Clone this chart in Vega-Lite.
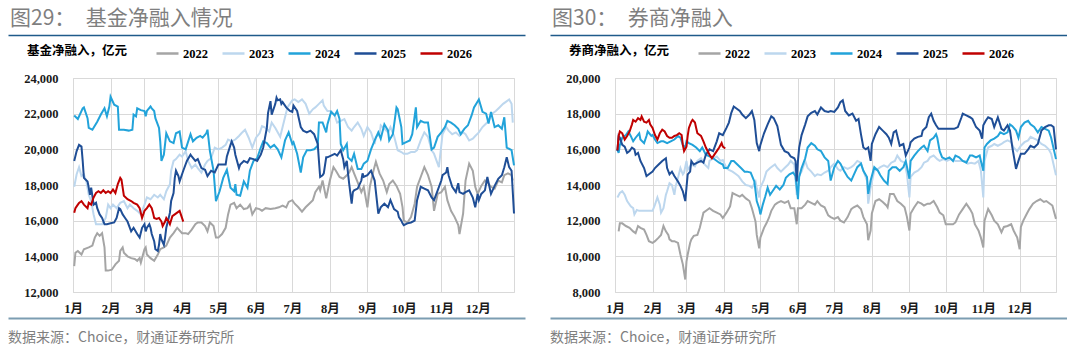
{
"$schema": "https://vega.github.io/schema/vega-lite/v6.json",
"background": "#ffffff",
"padding": {"left": 8, "top": 8, "right": 0, "bottom": 0},
"config": {
  "font": "Noto Sans CJK SC",
  "view": {"stroke": null},
  "axis": {"labelFont": "Liberation Serif, Noto Sans CJK SC", "labelFontSize": 12.5, "labelFontWeight": "bold", "labelColor": "#1a1a1a", "gridColor": "#d9d9d9", "gridWidth": 1, "domain": false, "ticks": false, "tickSize": 0, "title": null},
  "title": {"fontSize": 21, "color": "#7f7f7f", "anchor": "start", "fontWeight": "normal", "font": "Noto Sans CJK SC", "offset": 6},
  "legend": {"orient": "none", "legendX": -46, "legendY": -37, "direction": "horizontal", "titleOrient": "left", "titleFont": "Noto Sans CJK SC", "titleFontSize": 12.5, "titleFontWeight": "bold", "titleColor": "#000000", "titlePadding": 27, "titleBaseline": "middle", "labelFont": "Liberation Serif", "labelFontSize": 12.5, "labelFontWeight": "bold", "labelColor": "#000000", "symbolType": "stroke", "symbolSize": 484, "symbolStrokeWidth": 2.5, "columnPadding": 9, "labelOffset": 3, "padding": 0}
},
"datasets": {
"fund": [
{"s":"2022","d":"01-02","v":13450},{"s":"2022","d":"01-03","v":14200},{"s":"2022","d":"01-05","v":14300},{"s":"2022","d":"01-08","v":14100},{"s":"2022","d":"01-10","v":14400},{"s":"2022","d":"01-14","v":14500},{"s":"2022","d":"01-17","v":14600},{"s":"2022","d":"01-19","v":15050},{"s":"2022","d":"01-21","v":15300},{"s":"2022","d":"01-23","v":15150},{"s":"2022","d":"01-25","v":15300},{"s":"2022","d":"01-27","v":14500},{"s":"2022","d":"01-28","v":13200},{"s":"2022","d":"01-30","v":13200},{"s":"2022","d":"02-02","v":13250},{"s":"2022","d":"02-05","v":13550},{"s":"2022","d":"02-08","v":13750},{"s":"2022","d":"02-09","v":14300},{"s":"2022","d":"02-11","v":14500},{"s":"2022","d":"02-12","v":14200},{"s":"2022","d":"02-15","v":14000},{"s":"2022","d":"02-18","v":13900},{"s":"2022","d":"02-21","v":13850},{"s":"2022","d":"02-23","v":13750},{"s":"2022","d":"02-25","v":13900},{"s":"2022","d":"02-26","v":13650},{"s":"2022","d":"03-01","v":14400},{"s":"2022","d":"03-02","v":14500},{"s":"2022","d":"03-03","v":14100},{"s":"2022","d":"03-06","v":13900},{"s":"2022","d":"03-09","v":13750},{"s":"2022","d":"03-12","v":14100},{"s":"2022","d":"03-14","v":14400},{"s":"2022","d":"03-17","v":14500},{"s":"2022","d":"03-19","v":14600},{"s":"2022","d":"03-22","v":15050},{"s":"2022","d":"03-25","v":15300},{"s":"2022","d":"03-28","v":15600},{"s":"2022","d":"04-01","v":15300},{"s":"2022","d":"04-04","v":15300},{"s":"2022","d":"04-06","v":15250},{"s":"2022","d":"04-09","v":15500},{"s":"2022","d":"04-12","v":15800},{"s":"2022","d":"04-14","v":15900},{"s":"2022","d":"04-17","v":15900},{"s":"2022","d":"04-20","v":15700},{"s":"2022","d":"04-22","v":15400},{"s":"2022","d":"04-24","v":15900},{"s":"2022","d":"04-27","v":15700},{"s":"2022","d":"04-29","v":15050},{"s":"2022","d":"05-01","v":15050},{"s":"2022","d":"05-04","v":15250},{"s":"2022","d":"05-07","v":15600},{"s":"2022","d":"05-09","v":16350},{"s":"2022","d":"05-11","v":16900},{"s":"2022","d":"05-14","v":17000},{"s":"2022","d":"05-16","v":16700},{"s":"2022","d":"05-19","v":16900},{"s":"2022","d":"05-22","v":16650},{"s":"2022","d":"05-25","v":16700},{"s":"2022","d":"05-27","v":16900},{"s":"2022","d":"05-29","v":16350},{"s":"2022","d":"06-01","v":16700},{"s":"2022","d":"06-04","v":16650},{"s":"2022","d":"06-06","v":16550},{"s":"2022","d":"06-09","v":16700},{"s":"2022","d":"06-13","v":16650},{"s":"2022","d":"06-17","v":16700},{"s":"2022","d":"06-20","v":16750},{"s":"2022","d":"06-23","v":16850},{"s":"2022","d":"06-26","v":16750},{"s":"2022","d":"06-28","v":17050},{"s":"2022","d":"07-01","v":17150},{"s":"2022","d":"07-03","v":16950},{"s":"2022","d":"07-06","v":16750},{"s":"2022","d":"07-09","v":16500},{"s":"2022","d":"07-12","v":16750},{"s":"2022","d":"07-15","v":16950},{"s":"2022","d":"07-18","v":17150},{"s":"2022","d":"07-20","v":17600},{"s":"2022","d":"07-23","v":17900},{"s":"2022","d":"07-24","v":17700},{"s":"2022","d":"07-26","v":18250},{"s":"2022","d":"07-29","v":17250},{"s":"2022","d":"08-01","v":18250},{"s":"2022","d":"08-04","v":19000},{"s":"2022","d":"08-06","v":18800},{"s":"2022","d":"08-09","v":18450},{"s":"2022","d":"08-12","v":18350},{"s":"2022","d":"08-15","v":18550},{"s":"2022","d":"08-17","v":18700},{"s":"2022","d":"08-19","v":19000},{"s":"2022","d":"08-21","v":18650},{"s":"2022","d":"08-24","v":18150},{"s":"2022","d":"08-27","v":17600},{"s":"2022","d":"08-29","v":17900},{"s":"2022","d":"09-01","v":16750},{"s":"2022","d":"09-03","v":17900},{"s":"2022","d":"09-06","v":18800},{"s":"2022","d":"09-08","v":19300},{"s":"2022","d":"09-11","v":18650},{"s":"2022","d":"09-14","v":18250},{"s":"2022","d":"09-17","v":17600},{"s":"2022","d":"09-19","v":18050},{"s":"2022","d":"09-22","v":18250},{"s":"2022","d":"09-25","v":17950},{"s":"2022","d":"09-28","v":17500},{"s":"2022","d":"09-30","v":16750},{"s":"2022","d":"10-01","v":16000},{"s":"2022","d":"10-04","v":15900},{"s":"2022","d":"10-07","v":16200},{"s":"2022","d":"10-10","v":16950},{"s":"2022","d":"10-12","v":17900},{"s":"2022","d":"10-15","v":18450},{"s":"2022","d":"10-18","v":19000},{"s":"2022","d":"10-21","v":18550},{"s":"2022","d":"10-24","v":17900},{"s":"2022","d":"10-26","v":16550},{"s":"2022","d":"10-29","v":17500},{"s":"2022","d":"11-01","v":17600},{"s":"2022","d":"11-04","v":17900},{"s":"2022","d":"11-06","v":17150},{"s":"2022","d":"11-09","v":16550},{"s":"2022","d":"11-12","v":16200},{"s":"2022","d":"11-15","v":15750},{"s":"2022","d":"11-16","v":15250},{"s":"2022","d":"11-19","v":16400},{"s":"2022","d":"11-21","v":18250},{"s":"2022","d":"11-24","v":19200},{"s":"2022","d":"11-27","v":18800},{"s":"2022","d":"11-29","v":17900},{"s":"2022","d":"12-01","v":17500},{"s":"2022","d":"12-04","v":17950},{"s":"2022","d":"12-07","v":18250},{"s":"2022","d":"12-09","v":18150},{"s":"2022","d":"12-12","v":17900},{"s":"2022","d":"12-15","v":17800},{"s":"2022","d":"12-18","v":18250},{"s":"2022","d":"12-21","v":18150},{"s":"2022","d":"12-23","v":18550},{"s":"2022","d":"12-26","v":18650},{"s":"2022","d":"12-29","v":18550},{"s":"2022","d":"12-30","v":18250},
{"s":"2023","d":"01-02","v":17900},{"s":"2023","d":"01-04","v":18600},{"s":"2023","d":"01-06","v":19000},{"s":"2023","d":"01-08","v":18500},{"s":"2023","d":"01-10","v":18600},{"s":"2023","d":"01-12","v":18200},{"s":"2023","d":"01-14","v":17450},{"s":"2023","d":"01-16","v":17100},{"s":"2023","d":"01-18","v":16350},{"s":"2023","d":"01-20","v":15800},{"s":"2023","d":"01-23","v":15800},{"s":"2023","d":"01-25","v":15800},{"s":"2023","d":"01-28","v":16150},{"s":"2023","d":"01-30","v":16900},{"s":"2023","d":"02-01","v":16700},{"s":"2023","d":"02-03","v":16900},{"s":"2023","d":"02-06","v":16700},{"s":"2023","d":"02-09","v":17000},{"s":"2023","d":"02-12","v":17100},{"s":"2023","d":"02-15","v":16700},{"s":"2023","d":"02-17","v":16900},{"s":"2023","d":"02-20","v":16700},{"s":"2023","d":"02-23","v":16550},{"s":"2023","d":"02-26","v":16350},{"s":"2023","d":"03-01","v":16900},{"s":"2023","d":"03-03","v":17300},{"s":"2023","d":"03-06","v":17200},{"s":"2023","d":"03-09","v":17450},{"s":"2023","d":"03-12","v":17300},{"s":"2023","d":"03-14","v":17450},{"s":"2023","d":"03-17","v":17200},{"s":"2023","d":"03-19","v":17650},{"s":"2023","d":"03-22","v":18050},{"s":"2023","d":"03-23","v":18800},{"s":"2023","d":"03-25","v":19350},{"s":"2023","d":"03-27","v":19450},{"s":"2023","d":"03-30","v":19700},{"s":"2023","d":"04-01","v":19600},{"s":"2023","d":"04-04","v":19900},{"s":"2023","d":"04-06","v":19350},{"s":"2023","d":"04-09","v":18950},{"s":"2023","d":"04-12","v":19150},{"s":"2023","d":"04-14","v":18950},{"s":"2023","d":"04-17","v":18700},{"s":"2023","d":"04-20","v":19150},{"s":"2023","d":"04-22","v":19350},{"s":"2023","d":"04-25","v":19500},{"s":"2023","d":"04-28","v":20100},{"s":"2023","d":"05-01","v":20000},{"s":"2023","d":"05-04","v":20100},{"s":"2023","d":"05-07","v":20250},{"s":"2023","d":"05-09","v":20550},{"s":"2023","d":"05-12","v":20450},{"s":"2023","d":"05-15","v":20550},{"s":"2023","d":"05-18","v":20750},{"s":"2023","d":"05-20","v":20900},{"s":"2023","d":"05-23","v":21100},{"s":"2023","d":"05-26","v":20650},{"s":"2023","d":"05-29","v":20100},{"s":"2023","d":"06-01","v":20650},{"s":"2023","d":"06-04","v":20900},{"s":"2023","d":"06-06","v":21300},{"s":"2023","d":"06-09","v":21200},{"s":"2023","d":"06-12","v":21000},{"s":"2023","d":"06-14","v":21500},{"s":"2023","d":"06-17","v":21200},{"s":"2023","d":"06-21","v":20700},{"s":"2023","d":"06-27","v":22350},{"s":"2023","d":"07-01","v":22750},{"s":"2023","d":"07-03","v":22800},{"s":"2023","d":"07-06","v":22650},{"s":"2023","d":"07-09","v":22800},{"s":"2023","d":"07-12","v":22550},{"s":"2023","d":"07-15","v":22000},{"s":"2023","d":"07-18","v":22250},{"s":"2023","d":"07-20","v":22350},{"s":"2023","d":"07-23","v":22550},{"s":"2023","d":"07-26","v":22750},{"s":"2023","d":"07-27","v":22450},{"s":"2023","d":"07-30","v":22150},{"s":"2023","d":"08-02","v":22150},{"s":"2023","d":"08-05","v":21900},{"s":"2023","d":"08-07","v":21500},{"s":"2023","d":"08-10","v":21600},{"s":"2023","d":"08-13","v":21700},{"s":"2023","d":"08-16","v":21250},{"s":"2023","d":"08-19","v":21050},{"s":"2023","d":"08-21","v":21250},{"s":"2023","d":"08-24","v":21500},{"s":"2023","d":"08-27","v":21150},{"s":"2023","d":"08-29","v":20750},{"s":"2023","d":"09-01","v":21250},{"s":"2023","d":"09-04","v":20950},{"s":"2023","d":"09-07","v":20300},{"s":"2023","d":"09-08","v":20700},{"s":"2023","d":"09-11","v":20850},{"s":"2023","d":"09-12","v":21350},{"s":"2023","d":"09-15","v":21150},{"s":"2023","d":"09-18","v":20950},{"s":"2023","d":"09-20","v":21250},{"s":"2023","d":"09-23","v":20750},{"s":"2023","d":"09-26","v":19950},{"s":"2023","d":"09-29","v":19850},{"s":"2023","d":"10-01","v":19750},{"s":"2023","d":"10-04","v":19750},{"s":"2023","d":"10-07","v":19850},{"s":"2023","d":"10-10","v":19850},{"s":"2023","d":"10-12","v":19950},{"s":"2023","d":"10-15","v":20500},{"s":"2023","d":"10-18","v":20950},{"s":"2023","d":"10-21","v":20700},{"s":"2023","d":"10-24","v":19950},{"s":"2023","d":"10-26","v":19750},{"s":"2023","d":"10-30","v":19000},{"s":"2023","d":"11-02","v":20850},{"s":"2023","d":"11-05","v":21250},{"s":"2023","d":"11-07","v":21050},{"s":"2023","d":"11-10","v":20850},{"s":"2023","d":"11-13","v":20950},{"s":"2023","d":"11-16","v":20750},{"s":"2023","d":"11-19","v":20950},{"s":"2023","d":"11-21","v":20850},{"s":"2023","d":"11-24","v":20500},{"s":"2023","d":"11-27","v":20600},{"s":"2023","d":"11-29","v":20750},{"s":"2023","d":"12-02","v":20950},{"s":"2023","d":"12-05","v":21250},{"s":"2023","d":"12-08","v":21450},{"s":"2023","d":"12-10","v":21600},{"s":"2023","d":"12-13","v":22000},{"s":"2023","d":"12-16","v":22150},{"s":"2023","d":"12-19","v":22350},{"s":"2023","d":"12-22","v":22550},{"s":"2023","d":"12-24","v":22650},{"s":"2023","d":"12-27","v":22800},{"s":"2023","d":"12-29","v":22550},{"s":"2023","d":"12-30","v":21500},
{"s":"2024","d":"01-02","v":21900},{"s":"2024","d":"01-05","v":21700},{"s":"2024","d":"01-09","v":22300},{"s":"2024","d":"01-10","v":22350},{"s":"2024","d":"01-13","v":21750},{"s":"2024","d":"01-14","v":21200},{"s":"2024","d":"01-17","v":21100},{"s":"2024","d":"01-21","v":21550},{"s":"2024","d":"01-24","v":21950},{"s":"2024","d":"01-27","v":22300},{"s":"2024","d":"01-29","v":21850},{"s":"2024","d":"01-31","v":22400},{"s":"2024","d":"02-01","v":22950},{"s":"2024","d":"02-04","v":22500},{"s":"2024","d":"02-07","v":22400},{"s":"2024","d":"02-08","v":21100},{"s":"2024","d":"02-12","v":21100},{"s":"2024","d":"02-16","v":21050},{"s":"2024","d":"02-19","v":21100},{"s":"2024","d":"02-20","v":21950},{"s":"2024","d":"02-22","v":21850},{"s":"2024","d":"02-23","v":22300},{"s":"2024","d":"02-26","v":22200},{"s":"2024","d":"03-01","v":22150},{"s":"2024","d":"03-02","v":21850},{"s":"2024","d":"03-03","v":22150},{"s":"2024","d":"03-06","v":22400},{"s":"2024","d":"03-07","v":22300},{"s":"2024","d":"03-09","v":22150},{"s":"2024","d":"03-10","v":21750},{"s":"2024","d":"03-13","v":21200},{"s":"2024","d":"03-14","v":20450},{"s":"2024","d":"03-15","v":19350},{"s":"2024","d":"03-17","v":19700},{"s":"2024","d":"03-19","v":20900},{"s":"2024","d":"03-22","v":20450},{"s":"2024","d":"03-25","v":20350},{"s":"2024","d":"03-27","v":20900},{"s":"2024","d":"03-30","v":21000},{"s":"2024","d":"04-01","v":20100},{"s":"2024","d":"04-04","v":20000},{"s":"2024","d":"04-08","v":20850},{"s":"2024","d":"04-10","v":20450},{"s":"2024","d":"04-13","v":20650},{"s":"2024","d":"04-16","v":20750},{"s":"2024","d":"04-18","v":20650},{"s":"2024","d":"04-21","v":20900},{"s":"2024","d":"04-22","v":21100},{"s":"2024","d":"04-24","v":19900},{"s":"2024","d":"04-27","v":18800},{"s":"2024","d":"04-29","v":17100},{"s":"2024","d":"05-02","v":17650},{"s":"2024","d":"05-05","v":18400},{"s":"2024","d":"05-08","v":18850},{"s":"2024","d":"05-11","v":17850},{"s":"2024","d":"05-14","v":17650},{"s":"2024","d":"05-15","v":18050},{"s":"2024","d":"05-16","v":17450},{"s":"2024","d":"05-19","v":17400},{"s":"2024","d":"05-22","v":18200},{"s":"2024","d":"05-25","v":17850},{"s":"2024","d":"05-27","v":18800},{"s":"2024","d":"05-30","v":19350},{"s":"2024","d":"06-02","v":19500},{"s":"2024","d":"06-05","v":20100},{"s":"2024","d":"06-07","v":20450},{"s":"2024","d":"06-10","v":20350},{"s":"2024","d":"06-13","v":20100},{"s":"2024","d":"06-16","v":20250},{"s":"2024","d":"06-19","v":20000},{"s":"2024","d":"06-22","v":19550},{"s":"2024","d":"06-25","v":20500},{"s":"2024","d":"06-28","v":20950},{"s":"2024","d":"07-01","v":20300},{"s":"2024","d":"07-02","v":20400},{"s":"2024","d":"07-05","v":19750},{"s":"2024","d":"07-08","v":18700},{"s":"2024","d":"07-10","v":19550},{"s":"2024","d":"07-13","v":19950},{"s":"2024","d":"07-16","v":19950},{"s":"2024","d":"07-19","v":20000},{"s":"2024","d":"07-22","v":20200},{"s":"2024","d":"07-23","v":21500},{"s":"2024","d":"07-26","v":21500},{"s":"2024","d":"07-29","v":20950},{"s":"2024","d":"07-30","v":21400},{"s":"2024","d":"08-02","v":22100},{"s":"2024","d":"08-05","v":21900},{"s":"2024","d":"08-07","v":22150},{"s":"2024","d":"08-09","v":21700},{"s":"2024","d":"08-10","v":20300},{"s":"2024","d":"08-12","v":19950},{"s":"2024","d":"08-15","v":20300},{"s":"2024","d":"08-16","v":19550},{"s":"2024","d":"08-19","v":19350},{"s":"2024","d":"08-21","v":19750},{"s":"2024","d":"08-24","v":18900},{"s":"2024","d":"08-27","v":18900},{"s":"2024","d":"08-29","v":19200},{"s":"2024","d":"09-01","v":19350},{"s":"2024","d":"09-04","v":20000},{"s":"2024","d":"09-07","v":20500},{"s":"2024","d":"09-10","v":20950},{"s":"2024","d":"09-12","v":20600},{"s":"2024","d":"09-15","v":21400},{"s":"2024","d":"09-18","v":21050},{"s":"2024","d":"09-19","v":20500},{"s":"2024","d":"09-22","v":20850},{"s":"2024","d":"09-25","v":22350},{"s":"2024","d":"09-26","v":22250},{"s":"2024","d":"09-29","v":21250},{"s":"2024","d":"09-30","v":20300},{"s":"2024","d":"10-03","v":20400},{"s":"2024","d":"10-06","v":20500},{"s":"2024","d":"10-08","v":20850},{"s":"2024","d":"10-11","v":22350},{"s":"2024","d":"10-12","v":21250},{"s":"2024","d":"10-15","v":21600},{"s":"2024","d":"10-18","v":21500},{"s":"2024","d":"10-21","v":21500},{"s":"2024","d":"10-24","v":20000},{"s":"2024","d":"10-26","v":20100},{"s":"2024","d":"10-29","v":20700},{"s":"2024","d":"11-01","v":20950},{"s":"2024","d":"11-04","v":21250},{"s":"2024","d":"11-06","v":21600},{"s":"2024","d":"11-09","v":21500},{"s":"2024","d":"11-12","v":21350},{"s":"2024","d":"11-15","v":21150},{"s":"2024","d":"11-17","v":20850},{"s":"2024","d":"11-20","v":21150},{"s":"2024","d":"11-23","v":21350},{"s":"2024","d":"11-26","v":21900},{"s":"2024","d":"11-28","v":22350},{"s":"2024","d":"12-02","v":22800},{"s":"2024","d":"12-05","v":22100},{"s":"2024","d":"12-08","v":22000},{"s":"2024","d":"12-10","v":21450},{"s":"2024","d":"12-12","v":22100},{"s":"2024","d":"12-15","v":21250},{"s":"2024","d":"12-18","v":21350},{"s":"2024","d":"12-21","v":21150},{"s":"2024","d":"12-23","v":21800},{"s":"2024","d":"12-25","v":20100},{"s":"2024","d":"12-29","v":19950},{"s":"2024","d":"12-31","v":19100},
{"s":"2025","d":"01-02","v":19350},{"s":"2025","d":"01-04","v":19900},{"s":"2025","d":"01-06","v":20250},{"s":"2025","d":"01-08","v":20150},{"s":"2025","d":"01-09","v":19350},{"s":"2025","d":"01-10","v":18400},{"s":"2025","d":"01-13","v":18200},{"s":"2025","d":"01-14","v":17850},{"s":"2025","d":"01-15","v":17450},{"s":"2025","d":"01-16","v":17850},{"s":"2025","d":"01-18","v":16900},{"s":"2025","d":"01-20","v":17000},{"s":"2025","d":"01-21","v":16700},{"s":"2025","d":"01-23","v":16350},{"s":"2025","d":"01-25","v":16150},{"s":"2025","d":"01-27","v":15800},{"s":"2025","d":"01-29","v":15800},{"s":"2025","d":"02-01","v":15850},{"s":"2025","d":"02-04","v":15900},{"s":"2025","d":"02-06","v":16150},{"s":"2025","d":"02-08","v":16700},{"s":"2025","d":"02-09","v":16650},{"s":"2025","d":"02-11","v":16350},{"s":"2025","d":"02-13","v":16150},{"s":"2025","d":"02-15","v":15950},{"s":"2025","d":"02-18","v":15400},{"s":"2025","d":"02-20","v":15600},{"s":"2025","d":"02-23","v":15250},{"s":"2025","d":"02-25","v":15050},{"s":"2025","d":"02-27","v":15600},{"s":"2025","d":"03-01","v":15800},{"s":"2025","d":"03-02","v":15400},{"s":"2025","d":"03-03","v":15600},{"s":"2025","d":"03-05","v":15800},{"s":"2025","d":"03-06","v":15600},{"s":"2025","d":"03-07","v":15250},{"s":"2025","d":"03-09","v":14850},{"s":"2025","d":"03-10","v":14400},{"s":"2025","d":"03-12","v":14300},{"s":"2025","d":"03-13","v":14650},{"s":"2025","d":"03-14","v":15250},{"s":"2025","d":"03-15","v":14950},{"s":"2025","d":"03-17","v":14650},{"s":"2025","d":"03-18","v":15050},{"s":"2025","d":"03-19","v":15600},{"s":"2025","d":"03-21","v":16150},{"s":"2025","d":"03-22","v":16450},{"s":"2025","d":"03-23","v":17100},{"s":"2025","d":"03-25","v":17550},{"s":"2025","d":"03-26","v":18400},{"s":"2025","d":"03-27","v":18800},{"s":"2025","d":"03-29","v":18500},{"s":"2025","d":"03-30","v":18200},{"s":"2025","d":"04-02","v":18800},{"s":"2025","d":"04-05","v":19350},{"s":"2025","d":"04-08","v":19700},{"s":"2025","d":"04-09","v":19600},{"s":"2025","d":"04-12","v":19350},{"s":"2025","d":"04-14","v":19450},{"s":"2025","d":"04-17","v":18950},{"s":"2025","d":"04-20","v":18850},{"s":"2025","d":"04-22","v":18500},{"s":"2025","d":"04-25","v":18800},{"s":"2025","d":"04-28","v":18700},{"s":"2025","d":"05-01","v":19150},{"s":"2025","d":"05-04","v":19150},{"s":"2025","d":"05-07","v":19150},{"s":"2025","d":"05-08","v":19600},{"s":"2025","d":"05-11","v":20250},{"s":"2025","d":"05-12","v":20450},{"s":"2025","d":"05-14","v":20100},{"s":"2025","d":"05-15","v":19700},{"s":"2025","d":"05-18","v":18950},{"s":"2025","d":"05-19","v":19150},{"s":"2025","d":"05-22","v":19350},{"s":"2025","d":"05-25","v":19250},{"s":"2025","d":"05-27","v":19500},{"s":"2025","d":"05-30","v":19450},{"s":"2025","d":"06-02","v":19350},{"s":"2025","d":"06-05","v":19700},{"s":"2025","d":"06-07","v":20100},{"s":"2025","d":"06-10","v":21200},{"s":"2025","d":"06-11","v":22050},{"s":"2025","d":"06-13","v":22700},{"s":"2025","d":"06-14","v":21950},{"s":"2025","d":"06-17","v":22550},{"s":"2025","d":"06-18","v":22900},{"s":"2025","d":"06-19","v":22750},{"s":"2025","d":"06-21","v":22800},{"s":"2025","d":"06-22","v":22550},{"s":"2025","d":"06-23","v":22650},{"s":"2025","d":"06-26","v":22350},{"s":"2025","d":"06-29","v":22150},{"s":"2025","d":"07-01","v":22100},{"s":"2025","d":"07-02","v":22450},{"s":"2025","d":"07-05","v":22150},{"s":"2025","d":"07-08","v":21250},{"s":"2025","d":"07-10","v":21050},{"s":"2025","d":"07-13","v":20950},{"s":"2025","d":"07-16","v":21050},{"s":"2025","d":"07-19","v":20850},{"s":"2025","d":"07-22","v":20300},{"s":"2025","d":"07-23","v":19350},{"s":"2025","d":"07-24","v":18450},{"s":"2025","d":"07-26","v":18550},{"s":"2025","d":"07-27","v":18650},{"s":"2025","d":"07-29","v":19550},{"s":"2025","d":"07-30","v":19550},{"s":"2025","d":"08-02","v":19650},{"s":"2025","d":"08-05","v":19750},{"s":"2025","d":"08-07","v":19650},{"s":"2025","d":"08-10","v":19950},{"s":"2025","d":"08-12","v":19450},{"s":"2025","d":"08-13","v":19000},{"s":"2025","d":"08-15","v":19350},{"s":"2025","d":"08-16","v":18650},{"s":"2025","d":"08-17","v":18050},{"s":"2025","d":"08-19","v":16950},{"s":"2025","d":"08-20","v":17600},{"s":"2025","d":"08-21","v":17700},{"s":"2025","d":"08-24","v":17800},{"s":"2025","d":"08-27","v":18250},{"s":"2025","d":"08-28","v":18650},{"s":"2025","d":"08-29","v":18450},{"s":"2025","d":"09-01","v":18550},{"s":"2025","d":"09-04","v":18800},{"s":"2025","d":"09-07","v":18250},{"s":"2025","d":"09-10","v":16400},{"s":"2025","d":"09-12","v":16750},{"s":"2025","d":"09-15","v":16950},{"s":"2025","d":"09-18","v":16750},{"s":"2025","d":"09-20","v":17150},{"s":"2025","d":"09-23","v":16650},{"s":"2025","d":"09-26","v":16500},{"s":"2025","d":"09-27","v":16200},{"s":"2025","d":"09-29","v":16000},{"s":"2025","d":"09-30","v":15850},{"s":"2025","d":"10-01","v":15750},{"s":"2025","d":"10-04","v":15850},{"s":"2025","d":"10-07","v":15900},{"s":"2025","d":"10-10","v":16000},{"s":"2025","d":"10-12","v":17150},{"s":"2025","d":"10-15","v":17900},{"s":"2025","d":"10-18","v":17800},{"s":"2025","d":"10-21","v":17700},{"s":"2025","d":"10-24","v":17300},{"s":"2025","d":"10-26","v":17150},{"s":"2025","d":"10-29","v":17700},{"s":"2025","d":"11-01","v":18250},{"s":"2025","d":"11-02","v":18550},{"s":"2025","d":"11-05","v":18700},{"s":"2025","d":"11-06","v":19000},{"s":"2025","d":"11-07","v":18550},{"s":"2025","d":"11-10","v":17900},{"s":"2025","d":"11-13","v":17600},{"s":"2025","d":"11-15","v":18100},{"s":"2025","d":"11-16","v":17600},{"s":"2025","d":"11-19","v":17500},{"s":"2025","d":"11-21","v":17600},{"s":"2025","d":"11-24","v":17700},{"s":"2025","d":"11-27","v":17300},{"s":"2025","d":"11-29","v":16750},{"s":"2025","d":"12-01","v":17500},{"s":"2025","d":"12-02","v":17150},{"s":"2025","d":"12-04","v":17500},{"s":"2025","d":"12-07","v":17700},{"s":"2025","d":"12-09","v":18450},{"s":"2025","d":"12-12","v":17500},{"s":"2025","d":"12-15","v":17950},{"s":"2025","d":"12-18","v":18350},{"s":"2025","d":"12-21","v":18550},{"s":"2025","d":"12-23","v":19000},{"s":"2025","d":"12-25","v":19550},{"s":"2025","d":"12-27","v":19000},{"s":"2025","d":"12-29","v":18800},{"s":"2025","d":"12-31","v":16400},
{"s":"2026","d":"01-02","v":16450},{"s":"2026","d":"01-03","v":16700},{"s":"2026","d":"01-05","v":16900},{"s":"2026","d":"01-06","v":17000},{"s":"2026","d":"01-08","v":17100},{"s":"2026","d":"01-10","v":16900},{"s":"2026","d":"01-13","v":16700},{"s":"2026","d":"01-14","v":17000},{"s":"2026","d":"01-16","v":16900},{"s":"2026","d":"01-18","v":17300},{"s":"2026","d":"01-20","v":17550},{"s":"2026","d":"01-22","v":17650},{"s":"2026","d":"01-24","v":17550},{"s":"2026","d":"01-26","v":17700},{"s":"2026","d":"01-28","v":17550},{"s":"2026","d":"01-30","v":17650},{"s":"2026","d":"02-01","v":17550},{"s":"2026","d":"02-03","v":17750},{"s":"2026","d":"02-05","v":17550},{"s":"2026","d":"02-07","v":18050},{"s":"2026","d":"02-09","v":18400},{"s":"2026","d":"02-10","v":18300},{"s":"2026","d":"02-12","v":17400},{"s":"2026","d":"02-15","v":17200},{"s":"2026","d":"02-18","v":17100},{"s":"2026","d":"02-20","v":17000},{"s":"2026","d":"02-23","v":16900},{"s":"2026","d":"02-25","v":16700},{"s":"2026","d":"02-27","v":16150},{"s":"2026","d":"03-01","v":16550},{"s":"2026","d":"03-03","v":16700},{"s":"2026","d":"03-05","v":16900},{"s":"2026","d":"03-07","v":16700},{"s":"2026","d":"03-08","v":16450},{"s":"2026","d":"03-09","v":16150},{"s":"2026","d":"03-11","v":16100},{"s":"2026","d":"03-13","v":16150},{"s":"2026","d":"03-15","v":15950},{"s":"2026","d":"03-16","v":15700},{"s":"2026","d":"03-18","v":15950},{"s":"2026","d":"03-19","v":16150},{"s":"2026","d":"03-21","v":15950},{"s":"2026","d":"03-22","v":15800},{"s":"2026","d":"03-24","v":16250},{"s":"2026","d":"03-26","v":16350},{"s":"2026","d":"03-28","v":16450},{"s":"2026","d":"03-30","v":16550},{"s":"2026","d":"03-31","v":16350},{"s":"2026","d":"04-02","v":15950}
],
"broker": [
{"s":"2022","d":"01-04","v":11400},{"s":"2022","d":"01-05","v":11850},{"s":"2022","d":"01-07","v":11850},{"s":"2022","d":"01-10","v":11700},{"s":"2022","d":"01-13","v":11600},{"s":"2022","d":"01-16","v":11400},{"s":"2022","d":"01-18","v":11300},{"s":"2022","d":"01-20","v":11700},{"s":"2022","d":"01-22","v":11600},{"s":"2022","d":"01-25","v":11500},{"s":"2022","d":"01-27","v":11200},{"s":"2022","d":"01-29","v":10850},{"s":"2022","d":"02-01","v":10750},{"s":"2022","d":"02-03","v":10850},{"s":"2022","d":"02-06","v":11050},{"s":"2022","d":"02-08","v":11200},{"s":"2022","d":"02-10","v":11700},{"s":"2022","d":"02-12","v":11400},{"s":"2022","d":"02-14","v":11200},{"s":"2022","d":"02-15","v":10950},{"s":"2022","d":"02-17","v":10850},{"s":"2022","d":"02-19","v":10850},{"s":"2022","d":"02-22","v":10750},{"s":"2022","d":"02-24","v":10100},{"s":"2022","d":"02-26","v":9550},{"s":"2022","d":"02-28","v":8700},{"s":"2022","d":"03-01","v":9700},{"s":"2022","d":"03-02","v":10100},{"s":"2022","d":"03-04","v":10750},{"s":"2022","d":"03-05","v":10950},{"s":"2022","d":"03-07","v":11150},{"s":"2022","d":"03-10","v":11200},{"s":"2022","d":"03-12","v":11600},{"s":"2022","d":"03-15","v":12450},{"s":"2022","d":"03-18","v":12600},{"s":"2022","d":"03-20","v":12700},{"s":"2022","d":"03-23","v":12550},{"s":"2022","d":"03-26","v":12450},{"s":"2022","d":"03-29","v":12350},{"s":"2022","d":"03-31","v":12150},{"s":"2022","d":"04-03","v":12450},{"s":"2022","d":"04-06","v":12800},{"s":"2022","d":"04-08","v":13550},{"s":"2022","d":"04-11","v":13450},{"s":"2022","d":"04-14","v":13350},{"s":"2022","d":"04-16","v":13450},{"s":"2022","d":"04-19","v":13250},{"s":"2022","d":"04-22","v":13100},{"s":"2022","d":"04-24","v":12700},{"s":"2022","d":"04-27","v":11950},{"s":"2022","d":"04-28","v":11200},{"s":"2022","d":"04-30","v":10450},{"s":"2022","d":"05-01","v":11050},{"s":"2022","d":"05-04","v":11600},{"s":"2022","d":"05-06","v":11850},{"s":"2022","d":"05-08","v":12150},{"s":"2022","d":"05-10","v":12550},{"s":"2022","d":"05-13","v":12900},{"s":"2022","d":"05-15","v":13000},{"s":"2022","d":"05-18","v":13100},{"s":"2022","d":"05-21","v":13000},{"s":"2022","d":"05-24","v":13100},{"s":"2022","d":"05-26","v":12700},{"s":"2022","d":"05-29","v":12700},{"s":"2022","d":"05-31","v":11800},{"s":"2022","d":"06-01","v":12700},{"s":"2022","d":"06-04","v":12700},{"s":"2022","d":"06-07","v":12900},{"s":"2022","d":"06-09","v":13100},{"s":"2022","d":"06-12","v":13000},{"s":"2022","d":"06-15","v":12900},{"s":"2022","d":"06-17","v":13100},{"s":"2022","d":"06-20","v":12850},{"s":"2022","d":"06-23","v":12750},{"s":"2022","d":"06-26","v":12300},{"s":"2022","d":"06-28","v":12200},{"s":"2022","d":"07-01","v":12100},{"s":"2022","d":"07-04","v":12200},{"s":"2022","d":"07-06","v":12000},{"s":"2022","d":"07-09","v":11900},{"s":"2022","d":"07-12","v":12200},{"s":"2022","d":"07-15","v":12650},{"s":"2022","d":"07-17","v":12750},{"s":"2022","d":"07-20","v":12850},{"s":"2022","d":"07-23","v":12650},{"s":"2022","d":"07-25","v":12200},{"s":"2022","d":"07-28","v":11800},{"s":"2022","d":"07-29","v":10900},{"s":"2022","d":"07-31","v":11450},{"s":"2022","d":"08-01","v":12400},{"s":"2022","d":"08-04","v":13100},{"s":"2022","d":"08-07","v":13200},{"s":"2022","d":"08-10","v":13050},{"s":"2022","d":"08-13","v":12850},{"s":"2022","d":"08-14","v":12750},{"s":"2022","d":"08-16","v":13500},{"s":"2022","d":"08-19","v":13500},{"s":"2022","d":"08-22","v":13100},{"s":"2022","d":"08-25","v":12950},{"s":"2022","d":"08-28","v":12750},{"s":"2022","d":"08-30","v":12200},{"s":"2022","d":"09-01","v":11450},{"s":"2022","d":"09-02","v":12400},{"s":"2022","d":"09-05","v":12750},{"s":"2022","d":"09-08","v":13050},{"s":"2022","d":"09-11","v":12950},{"s":"2022","d":"09-13","v":12850},{"s":"2022","d":"09-16","v":12950},{"s":"2022","d":"09-18","v":12950},{"s":"2022","d":"09-21","v":13100},{"s":"2022","d":"09-24","v":12750},{"s":"2022","d":"09-26","v":12450},{"s":"2022","d":"09-29","v":12300},{"s":"2022","d":"10-01","v":11800},{"s":"2022","d":"10-04","v":11800},{"s":"2022","d":"10-07","v":11800},{"s":"2022","d":"10-09","v":11900},{"s":"2022","d":"10-12","v":12350},{"s":"2022","d":"10-15","v":12650},{"s":"2022","d":"10-18","v":12950},{"s":"2022","d":"10-21","v":12650},{"s":"2022","d":"10-23","v":12400},{"s":"2022","d":"10-25","v":11800},{"s":"2022","d":"10-28","v":11450},{"s":"2022","d":"10-30","v":11050},{"s":"2022","d":"11-01","v":10500},{"s":"2022","d":"11-02","v":12000},{"s":"2022","d":"11-05","v":12650},{"s":"2022","d":"11-08","v":12300},{"s":"2022","d":"11-10","v":12000},{"s":"2022","d":"11-13","v":11800},{"s":"2022","d":"11-16","v":11350},{"s":"2022","d":"11-18","v":11650},{"s":"2022","d":"11-21","v":11700},{"s":"2022","d":"11-24","v":11800},{"s":"2022","d":"11-26","v":11450},{"s":"2022","d":"11-29","v":11050},{"s":"2022","d":"12-01","v":10400},{"s":"2022","d":"12-02","v":11650},{"s":"2022","d":"12-04","v":12000},{"s":"2022","d":"12-07","v":12400},{"s":"2022","d":"12-09","v":12650},{"s":"2022","d":"12-12","v":12950},{"s":"2022","d":"12-15","v":13100},{"s":"2022","d":"12-18","v":13200},{"s":"2022","d":"12-21","v":13050},{"s":"2022","d":"12-23","v":13100},{"s":"2022","d":"12-26","v":12950},{"s":"2022","d":"12-28","v":12850},{"s":"2022","d":"12-31","v":12100},
{"s":"2023","d":"01-03","v":13300},{"s":"2023","d":"01-05","v":13550},{"s":"2023","d":"01-07","v":13650},{"s":"2023","d":"01-09","v":13450},{"s":"2023","d":"01-11","v":13100},{"s":"2023","d":"01-14","v":12800},{"s":"2023","d":"01-16","v":12700},{"s":"2023","d":"01-17","v":12350},{"s":"2023","d":"01-19","v":12600},{"s":"2023","d":"01-21","v":12550},{"s":"2023","d":"01-24","v":12550},{"s":"2023","d":"01-27","v":12550},{"s":"2023","d":"01-29","v":12550},{"s":"2023","d":"02-01","v":12550},{"s":"2023","d":"02-03","v":12900},{"s":"2023","d":"02-05","v":13300},{"s":"2023","d":"02-07","v":12900},{"s":"2023","d":"02-08","v":12450},{"s":"2023","d":"02-10","v":12700},{"s":"2023","d":"02-12","v":13450},{"s":"2023","d":"02-13","v":13650},{"s":"2023","d":"02-15","v":14100},{"s":"2023","d":"02-17","v":14000},{"s":"2023","d":"02-19","v":13450},{"s":"2023","d":"02-20","v":13900},{"s":"2023","d":"02-22","v":14400},{"s":"2023","d":"02-24","v":14950},{"s":"2023","d":"02-26","v":14600},{"s":"2023","d":"02-27","v":14700},{"s":"2023","d":"03-01","v":15350},{"s":"2023","d":"03-02","v":14850},{"s":"2023","d":"03-05","v":15150},{"s":"2023","d":"03-08","v":15050},{"s":"2023","d":"03-10","v":15350},{"s":"2023","d":"03-13","v":15500},{"s":"2023","d":"03-16","v":15150},{"s":"2023","d":"03-19","v":14950},{"s":"2023","d":"03-20","v":15350},{"s":"2023","d":"03-23","v":15500},{"s":"2023","d":"03-26","v":15600},{"s":"2023","d":"03-29","v":15350},{"s":"2023","d":"03-31","v":15400},{"s":"2023","d":"04-03","v":14950},{"s":"2023","d":"04-05","v":14850},{"s":"2023","d":"04-08","v":14750},{"s":"2023","d":"04-11","v":14600},{"s":"2023","d":"04-13","v":14500},{"s":"2023","d":"04-16","v":14200},{"s":"2023","d":"04-19","v":14000},{"s":"2023","d":"04-22","v":13950},{"s":"2023","d":"04-24","v":13850},{"s":"2023","d":"04-27","v":14200},{"s":"2023","d":"04-28","v":13850},{"s":"2023","d":"04-30","v":13300},{"s":"2023","d":"05-01","v":13850},{"s":"2023","d":"05-04","v":14300},{"s":"2023","d":"05-06","v":14750},{"s":"2023","d":"05-09","v":14950},{"s":"2023","d":"05-13","v":15150},{"s":"2023","d":"05-15","v":14950},{"s":"2023","d":"05-18","v":14750},{"s":"2023","d":"05-21","v":14950},{"s":"2023","d":"05-24","v":15150},{"s":"2023","d":"05-26","v":15350},{"s":"2023","d":"05-29","v":15150},{"s":"2023","d":"05-31","v":13450},{"s":"2023","d":"06-01","v":14400},{"s":"2023","d":"06-04","v":14750},{"s":"2023","d":"06-07","v":15350},{"s":"2023","d":"06-09","v":14950},{"s":"2023","d":"06-12","v":14750},{"s":"2023","d":"06-15","v":14500},{"s":"2023","d":"06-17","v":14600},{"s":"2023","d":"06-20","v":14550},{"s":"2023","d":"06-23","v":14700},{"s":"2023","d":"06-26","v":14800},{"s":"2023","d":"06-28","v":15000},{"s":"2023","d":"07-01","v":15200},{"s":"2023","d":"07-04","v":14900},{"s":"2023","d":"07-06","v":14800},{"s":"2023","d":"07-09","v":15000},{"s":"2023","d":"07-12","v":14900},{"s":"2023","d":"07-15","v":15000},{"s":"2023","d":"07-17","v":15100},{"s":"2023","d":"07-20","v":15350},{"s":"2023","d":"07-23","v":15250},{"s":"2023","d":"07-25","v":14800},{"s":"2023","d":"07-28","v":14250},{"s":"2023","d":"07-29","v":12950},{"s":"2023","d":"07-31","v":13850},{"s":"2023","d":"08-03","v":14800},{"s":"2023","d":"08-06","v":14900},{"s":"2023","d":"08-08","v":15000},{"s":"2023","d":"08-11","v":15100},{"s":"2023","d":"08-14","v":15000},{"s":"2023","d":"08-17","v":15250},{"s":"2023","d":"08-20","v":15350},{"s":"2023","d":"08-22","v":15650},{"s":"2023","d":"08-25","v":15350},{"s":"2023","d":"08-28","v":15250},{"s":"2023","d":"08-30","v":14600},{"s":"2023","d":"09-01","v":13300},{"s":"2023","d":"09-02","v":14450},{"s":"2023","d":"09-05","v":14700},{"s":"2023","d":"09-08","v":14800},{"s":"2023","d":"09-11","v":15000},{"s":"2023","d":"09-13","v":15250},{"s":"2023","d":"09-16","v":15350},{"s":"2023","d":"09-18","v":15550},{"s":"2023","d":"09-21","v":15650},{"s":"2023","d":"09-24","v":15450},{"s":"2023","d":"09-26","v":15350},{"s":"2023","d":"09-29","v":15450},{"s":"2023","d":"10-02","v":15350},{"s":"2023","d":"10-05","v":15450},{"s":"2023","d":"10-09","v":15350},{"s":"2023","d":"10-12","v":15350},{"s":"2023","d":"10-17","v":15350},{"s":"2023","d":"10-19","v":15200},{"s":"2023","d":"10-22","v":15250},{"s":"2023","d":"10-25","v":15200},{"s":"2023","d":"10-28","v":15350},{"s":"2023","d":"10-30","v":14800},{"s":"2023","d":"11-01","v":13300},{"s":"2023","d":"11-02","v":15350},{"s":"2023","d":"11-05","v":16100},{"s":"2023","d":"11-08","v":16200},{"s":"2023","d":"11-10","v":16300},{"s":"2023","d":"11-13","v":16200},{"s":"2023","d":"11-16","v":16300},{"s":"2023","d":"11-18","v":16400},{"s":"2023","d":"11-21","v":16500},{"s":"2023","d":"11-24","v":16400},{"s":"2023","d":"11-26","v":16100},{"s":"2023","d":"11-29","v":15900},{"s":"2023","d":"12-02","v":16200},{"s":"2023","d":"12-05","v":16400},{"s":"2023","d":"12-08","v":16500},{"s":"2023","d":"12-10","v":16700},{"s":"2023","d":"12-13","v":16600},{"s":"2023","d":"12-16","v":16500},{"s":"2023","d":"12-19","v":16300},{"s":"2023","d":"12-22","v":16200},{"s":"2023","d":"12-25","v":16000},{"s":"2023","d":"12-27","v":15750},{"s":"2023","d":"12-31","v":14550},
{"s":"2024","d":"01-03","v":16000},{"s":"2024","d":"01-04","v":15800},{"s":"2024","d":"01-05","v":16250},{"s":"2024","d":"01-07","v":16650},{"s":"2024","d":"01-10","v":16800},{"s":"2024","d":"01-12","v":17000},{"s":"2024","d":"01-14","v":16750},{"s":"2024","d":"01-16","v":16450},{"s":"2024","d":"01-18","v":16650},{"s":"2024","d":"01-21","v":16900},{"s":"2024","d":"01-22","v":16550},{"s":"2024","d":"01-25","v":16350},{"s":"2024","d":"01-27","v":16750},{"s":"2024","d":"01-28","v":17000},{"s":"2024","d":"01-31","v":16750},{"s":"2024","d":"02-01","v":16800},{"s":"2024","d":"02-03","v":16550},{"s":"2024","d":"02-05","v":16350},{"s":"2024","d":"02-08","v":16450},{"s":"2024","d":"02-10","v":16450},{"s":"2024","d":"02-13","v":16350},{"s":"2024","d":"02-16","v":16450},{"s":"2024","d":"02-19","v":16550},{"s":"2024","d":"02-22","v":16750},{"s":"2024","d":"02-24","v":16650},{"s":"2024","d":"02-26","v":16250},{"s":"2024","d":"02-28","v":16100},{"s":"2024","d":"03-01","v":16450},{"s":"2024","d":"03-03","v":16350},{"s":"2024","d":"03-06","v":16250},{"s":"2024","d":"03-09","v":16100},{"s":"2024","d":"03-12","v":15900},{"s":"2024","d":"03-14","v":16100},{"s":"2024","d":"03-17","v":15700},{"s":"2024","d":"03-20","v":15600},{"s":"2024","d":"03-23","v":15500},{"s":"2024","d":"03-25","v":15400},{"s":"2024","d":"03-28","v":15250},{"s":"2024","d":"03-31","v":15150},{"s":"2024","d":"04-01","v":14950},{"s":"2024","d":"04-04","v":14950},{"s":"2024","d":"04-07","v":15350},{"s":"2024","d":"04-09","v":15350},{"s":"2024","d":"04-12","v":15150},{"s":"2024","d":"04-15","v":14950},{"s":"2024","d":"04-18","v":14750},{"s":"2024","d":"04-20","v":14750},{"s":"2024","d":"04-23","v":14700},{"s":"2024","d":"04-26","v":14200},{"s":"2024","d":"04-27","v":13650},{"s":"2024","d":"04-28","v":13100},{"s":"2024","d":"04-30","v":12700},{"s":"2024","d":"05-01","v":12350},{"s":"2024","d":"05-03","v":12900},{"s":"2024","d":"05-05","v":13350},{"s":"2024","d":"05-07","v":13850},{"s":"2024","d":"05-09","v":13450},{"s":"2024","d":"05-11","v":13650},{"s":"2024","d":"05-14","v":13950},{"s":"2024","d":"05-17","v":13750},{"s":"2024","d":"05-20","v":14000},{"s":"2024","d":"05-22","v":14400},{"s":"2024","d":"05-25","v":14600},{"s":"2024","d":"05-28","v":14700},{"s":"2024","d":"05-30","v":14500},{"s":"2024","d":"06-01","v":13200},{"s":"2024","d":"06-02","v":14450},{"s":"2024","d":"06-04","v":14950},{"s":"2024","d":"06-07","v":15500},{"s":"2024","d":"06-09","v":16100},{"s":"2024","d":"06-12","v":16350},{"s":"2024","d":"06-15","v":16200},{"s":"2024","d":"06-17","v":16000},{"s":"2024","d":"06-20","v":15900},{"s":"2024","d":"06-23","v":15550},{"s":"2024","d":"06-26","v":15350},{"s":"2024","d":"06-28","v":14250},{"s":"2024","d":"07-01","v":15000},{"s":"2024","d":"07-04","v":15350},{"s":"2024","d":"07-06","v":15200},{"s":"2024","d":"07-09","v":14800},{"s":"2024","d":"07-12","v":14450},{"s":"2024","d":"07-15","v":14250},{"s":"2024","d":"07-17","v":14550},{"s":"2024","d":"07-20","v":15000},{"s":"2024","d":"07-23","v":15200},{"s":"2024","d":"07-25","v":14800},{"s":"2024","d":"07-28","v":14450},{"s":"2024","d":"07-29","v":13500},{"s":"2024","d":"07-31","v":14250},{"s":"2024","d":"08-03","v":15000},{"s":"2024","d":"08-06","v":14800},{"s":"2024","d":"08-08","v":14550},{"s":"2024","d":"08-11","v":14250},{"s":"2024","d":"08-14","v":14050},{"s":"2024","d":"08-15","v":14800},{"s":"2024","d":"08-18","v":15000},{"s":"2024","d":"08-21","v":15000},{"s":"2024","d":"08-24","v":14800},{"s":"2024","d":"08-27","v":15000},{"s":"2024","d":"08-29","v":15350},{"s":"2024","d":"09-01","v":14350},{"s":"2024","d":"09-02","v":15350},{"s":"2024","d":"09-05","v":15650},{"s":"2024","d":"09-08","v":15900},{"s":"2024","d":"09-11","v":16100},{"s":"2024","d":"09-13","v":16200},{"s":"2024","d":"09-16","v":15900},{"s":"2024","d":"09-18","v":16500},{"s":"2024","d":"09-21","v":16650},{"s":"2024","d":"09-23","v":16850},{"s":"2024","d":"09-24","v":16650},{"s":"2024","d":"09-26","v":15900},{"s":"2024","d":"09-28","v":15550},{"s":"2024","d":"10-01","v":15450},{"s":"2024","d":"10-04","v":15550},{"s":"2024","d":"10-07","v":15350},{"s":"2024","d":"10-09","v":15650},{"s":"2024","d":"10-12","v":15550},{"s":"2024","d":"10-15","v":15350},{"s":"2024","d":"10-18","v":15250},{"s":"2024","d":"10-21","v":15650},{"s":"2024","d":"10-23","v":15650},{"s":"2024","d":"10-26","v":15550},{"s":"2024","d":"10-29","v":15650},{"s":"2024","d":"10-30","v":15350},{"s":"2024","d":"11-01","v":14800},{"s":"2024","d":"11-02","v":16100},{"s":"2024","d":"11-04","v":16300},{"s":"2024","d":"11-07","v":16500},{"s":"2024","d":"11-10","v":16600},{"s":"2024","d":"11-13","v":16750},{"s":"2024","d":"11-15","v":16950},{"s":"2024","d":"11-18","v":16850},{"s":"2024","d":"11-21","v":16950},{"s":"2024","d":"11-23","v":17400},{"s":"2024","d":"11-25","v":17300},{"s":"2024","d":"11-28","v":17050},{"s":"2024","d":"11-30","v":16650},{"s":"2024","d":"12-02","v":17250},{"s":"2024","d":"12-05","v":17500},{"s":"2024","d":"12-08","v":17600},{"s":"2024","d":"12-10","v":17400},{"s":"2024","d":"12-13","v":17250},{"s":"2024","d":"12-16","v":16950},{"s":"2024","d":"12-19","v":17250},{"s":"2024","d":"12-22","v":17150},{"s":"2024","d":"12-25","v":17050},{"s":"2024","d":"12-27","v":16650},{"s":"2024","d":"12-31","v":15450},
{"s":"2025","d":"01-03","v":15900},{"s":"2025","d":"01-04","v":16750},{"s":"2025","d":"01-05","v":16650},{"s":"2025","d":"01-07","v":16250},{"s":"2025","d":"01-09","v":16150},{"s":"2025","d":"01-11","v":15800},{"s":"2025","d":"01-13","v":15900},{"s":"2025","d":"01-15","v":16100},{"s":"2025","d":"01-17","v":16000},{"s":"2025","d":"01-18","v":15700},{"s":"2025","d":"01-20","v":15800},{"s":"2025","d":"01-22","v":15350},{"s":"2025","d":"01-25","v":14950},{"s":"2025","d":"01-27","v":14500},{"s":"2025","d":"01-29","v":14600},{"s":"2025","d":"02-01","v":14750},{"s":"2025","d":"02-03","v":14950},{"s":"2025","d":"02-06","v":15150},{"s":"2025","d":"02-09","v":15350},{"s":"2025","d":"02-12","v":15500},{"s":"2025","d":"02-13","v":14950},{"s":"2025","d":"02-15","v":14600},{"s":"2025","d":"02-17","v":14750},{"s":"2025","d":"02-19","v":14500},{"s":"2025","d":"02-22","v":14200},{"s":"2025","d":"02-24","v":13950},{"s":"2025","d":"02-26","v":13650},{"s":"2025","d":"02-28","v":13100},{"s":"2025","d":"03-01","v":13850},{"s":"2025","d":"03-02","v":14600},{"s":"2025","d":"03-04","v":14750},{"s":"2025","d":"03-05","v":15350},{"s":"2025","d":"03-07","v":15150},{"s":"2025","d":"03-10","v":15250},{"s":"2025","d":"03-13","v":15350},{"s":"2025","d":"03-15","v":15250},{"s":"2025","d":"03-17","v":15700},{"s":"2025","d":"03-20","v":16000},{"s":"2025","d":"03-23","v":15900},{"s":"2025","d":"03-26","v":16450},{"s":"2025","d":"03-28","v":16900},{"s":"2025","d":"03-31","v":16800},{"s":"2025","d":"04-03","v":17200},{"s":"2025","d":"04-05","v":17500},{"s":"2025","d":"04-07","v":18050},{"s":"2025","d":"04-09","v":18400},{"s":"2025","d":"04-11","v":18300},{"s":"2025","d":"04-14","v":18150},{"s":"2025","d":"04-16","v":17950},{"s":"2025","d":"04-19","v":17750},{"s":"2025","d":"04-22","v":17950},{"s":"2025","d":"04-24","v":18150},{"s":"2025","d":"04-26","v":17650},{"s":"2025","d":"04-27","v":17000},{"s":"2025","d":"04-28","v":16350},{"s":"2025","d":"04-30","v":15900},{"s":"2025","d":"05-01","v":16250},{"s":"2025","d":"05-04","v":16900},{"s":"2025","d":"05-07","v":17400},{"s":"2025","d":"05-10","v":17850},{"s":"2025","d":"05-12","v":17750},{"s":"2025","d":"05-15","v":17300},{"s":"2025","d":"05-18","v":16250},{"s":"2025","d":"05-21","v":15900},{"s":"2025","d":"05-24","v":15800},{"s":"2025","d":"05-26","v":15600},{"s":"2025","d":"05-29","v":15500},{"s":"2025","d":"05-30","v":15350},{"s":"2025","d":"05-31","v":14200},{"s":"2025","d":"06-01","v":15350},{"s":"2025","d":"06-02","v":16100},{"s":"2025","d":"06-04","v":16800},{"s":"2025","d":"06-07","v":17400},{"s":"2025","d":"06-09","v":17850},{"s":"2025","d":"06-12","v":18050},{"s":"2025","d":"06-15","v":18150},{"s":"2025","d":"06-17","v":17950},{"s":"2025","d":"06-20","v":18350},{"s":"2025","d":"06-23","v":18150},{"s":"2025","d":"06-26","v":18100},{"s":"2025","d":"06-28","v":18150},{"s":"2025","d":"07-01","v":18100},{"s":"2025","d":"07-04","v":18350},{"s":"2025","d":"07-06","v":18650},{"s":"2025","d":"07-08","v":18750},{"s":"2025","d":"07-10","v":18150},{"s":"2025","d":"07-13","v":17900},{"s":"2025","d":"07-16","v":18000},{"s":"2025","d":"07-19","v":17600},{"s":"2025","d":"07-21","v":17700},{"s":"2025","d":"07-23","v":16850},{"s":"2025","d":"07-25","v":16100},{"s":"2025","d":"07-27","v":16000},{"s":"2025","d":"07-29","v":16100},{"s":"2025","d":"07-31","v":15350},{"s":"2025","d":"08-01","v":16300},{"s":"2025","d":"08-04","v":16850},{"s":"2025","d":"08-07","v":17250},{"s":"2025","d":"08-10","v":17050},{"s":"2025","d":"08-13","v":16850},{"s":"2025","d":"08-15","v":16650},{"s":"2025","d":"08-17","v":16300},{"s":"2025","d":"08-19","v":16950},{"s":"2025","d":"08-21","v":17050},{"s":"2025","d":"08-24","v":16200},{"s":"2025","d":"08-27","v":16300},{"s":"2025","d":"08-29","v":15650},{"s":"2025","d":"09-01","v":16100},{"s":"2025","d":"09-02","v":16400},{"s":"2025","d":"09-05","v":16600},{"s":"2025","d":"09-08","v":16700},{"s":"2025","d":"09-11","v":16750},{"s":"2025","d":"09-12","v":17050},{"s":"2025","d":"09-15","v":17250},{"s":"2025","d":"09-17","v":17800},{"s":"2025","d":"09-19","v":18000},{"s":"2025","d":"09-21","v":17600},{"s":"2025","d":"09-23","v":17350},{"s":"2025","d":"09-25","v":17150},{"s":"2025","d":"09-29","v":17150},{"s":"2025","d":"10-04","v":17150},{"s":"2025","d":"10-08","v":17150},{"s":"2025","d":"10-11","v":17250},{"s":"2025","d":"10-14","v":17800},{"s":"2025","d":"10-15","v":18000},{"s":"2025","d":"10-18","v":17900},{"s":"2025","d":"10-21","v":17800},{"s":"2025","d":"10-23","v":17700},{"s":"2025","d":"10-26","v":17250},{"s":"2025","d":"10-29","v":17050},{"s":"2025","d":"10-31","v":16600},{"s":"2025","d":"11-01","v":17350},{"s":"2025","d":"11-03","v":17600},{"s":"2025","d":"11-05","v":17800},{"s":"2025","d":"11-08","v":17700},{"s":"2025","d":"11-10","v":17250},{"s":"2025","d":"11-13","v":17800},{"s":"2025","d":"11-16","v":17150},{"s":"2025","d":"11-18","v":17050},{"s":"2025","d":"11-21","v":17350},{"s":"2025","d":"11-23","v":17050},{"s":"2025","d":"11-25","v":16100},{"s":"2025","d":"11-28","v":14900},{"s":"2025","d":"11-30","v":15350},{"s":"2025","d":"12-02","v":15750},{"s":"2025","d":"12-05","v":15750},{"s":"2025","d":"12-08","v":16000},{"s":"2025","d":"12-10","v":16200},{"s":"2025","d":"12-13","v":16100},{"s":"2025","d":"12-16","v":16300},{"s":"2025","d":"12-19","v":17050},{"s":"2025","d":"12-22","v":17250},{"s":"2025","d":"12-25","v":17350},{"s":"2025","d":"12-27","v":17350},{"s":"2025","d":"12-29","v":17250},{"s":"2025","d":"12-31","v":16000},
{"s":"2026","d":"01-03","v":15950},{"s":"2026","d":"01-04","v":16750},{"s":"2026","d":"01-05","v":17000},{"s":"2026","d":"01-07","v":16900},{"s":"2026","d":"01-09","v":16550},{"s":"2026","d":"01-11","v":16750},{"s":"2026","d":"01-13","v":17000},{"s":"2026","d":"01-15","v":17400},{"s":"2026","d":"01-16","v":17650},{"s":"2026","d":"01-18","v":17550},{"s":"2026","d":"01-20","v":17750},{"s":"2026","d":"01-22","v":17650},{"s":"2026","d":"01-23","v":17850},{"s":"2026","d":"01-25","v":17550},{"s":"2026","d":"01-27","v":17500},{"s":"2026","d":"01-29","v":17650},{"s":"2026","d":"01-30","v":17400},{"s":"2026","d":"02-01","v":17200},{"s":"2026","d":"02-02","v":17000},{"s":"2026","d":"02-03","v":16800},{"s":"2026","d":"02-05","v":16550},{"s":"2026","d":"02-07","v":16900},{"s":"2026","d":"02-09","v":17100},{"s":"2026","d":"02-11","v":17000},{"s":"2026","d":"02-13","v":16750},{"s":"2026","d":"02-15","v":16650},{"s":"2026","d":"02-17","v":16650},{"s":"2026","d":"02-19","v":16750},{"s":"2026","d":"02-21","v":16800},{"s":"2026","d":"02-23","v":16900},{"s":"2026","d":"02-25","v":16800},{"s":"2026","d":"02-26","v":16250},{"s":"2026","d":"02-27","v":15900},{"s":"2026","d":"03-01","v":16150},{"s":"2026","d":"03-02","v":16750},{"s":"2026","d":"03-03","v":17200},{"s":"2026","d":"03-05","v":17550},{"s":"2026","d":"03-06","v":17650},{"s":"2026","d":"03-08","v":17500},{"s":"2026","d":"03-09","v":17200},{"s":"2026","d":"03-10","v":16900},{"s":"2026","d":"03-13","v":16750},{"s":"2026","d":"03-15","v":16450},{"s":"2026","d":"03-17","v":16100},{"s":"2026","d":"03-20","v":15700},{"s":"2026","d":"03-22","v":15500},{"s":"2026","d":"03-24","v":15700},{"s":"2026","d":"03-26","v":15900},{"s":"2026","d":"03-28","v":16100},{"s":"2026","d":"03-30","v":16350},{"s":"2026","d":"03-31","v":16150},{"s":"2026","d":"04-02","v":16050}
]
},
"spacing": 25,
"resolve": {"scale": {"color": "independent", "x": "independent", "y": "independent"}, "legend": {"color": "independent"}},
"hconcat": [
{
 "spacing": 3,
 "resolve": {"scale": {"color": "independent", "x": "independent", "y": "independent"}, "legend": {"color": "independent"}},
 "vconcat": [
  {"width": 517, "height": 2,
   "title": {"text": "图29：\u3000基金净融入情况", "dx": 2},
   "data": {"values": [{"k": 1}]},
   "mark": {"type": "point", "opacity": 0, "size": 1},
   "encoding": {"x": {"datum": 0.5, "type": "quantitative", "scale": {"domain": [0, 1]}, "axis": {"orient": "top", "domain": true, "domainColor": "#1f5a8a", "domainWidth": 1.5, "labels": false, "grid": false, "ticks": false, "title": null}}}},
  {"spacing": 0,
   "resolve": {"scale": {"color": "independent", "x": "independent", "y": "independent"}, "legend": {"color": "independent"}},
   "hconcat": [
    {"width": 15, "height": 10, "data": {"values": [{"k": 1}]}, "mark": {"type": "point", "opacity": 0, "size": 1}},
    {"width": 441, "height": 214,
     "view": {"stroke": "#d9d9d9"},
     "data": {"name": "fund", "format": {"parse": {"d": "utc:'%m-%d'"}}},
     "mark": {"type": "line", "strokeWidth": 2},
     "encoding": {
      "x": {"field": "d", "type": "temporal", "scale": {"type": "utc", "nice": false, "domain": [{"year": 1900, "month": 1, "date": 1, "utc": true}, {"year": 1900, "month": 12, "date": 31, "utc": true}]}, "axis": {"labelExpr": "utcFormat(datum.value, '%-m') + '月'", "tickCount": {"interval": "month", "step": 1}, "labelFlush": false, "labelOverlap": false, "labelPadding": 10, "grid": true}},
      "y": {"field": "v", "type": "quantitative", "scale": {"domain": [12000, 24000], "nice": false, "zero": false}, "axis": {"values": [12000, 14000, 16000, 18000, 20000, 22000, 24000], "format": ",d", "labelPadding": 15, "grid": true}},
      "color": {"field": "s", "type": "nominal", "scale": {"domain": ["2022", "2023", "2024", "2025", "2026"], "range": ["#a5a5a5", "#bdd7ee", "#22a3da", "#1f4e96", "#c00000"]}, "legend": {"title": "基金净融入，亿元"}}
     }}
   ]},
  {"width": 517, "height": 1,
   "title": {"text": "数据来源：Choice，财通证券研究所", "orient": "bottom", "fontSize": 14, "offset": 12},
   "data": {"values": [{"k": 1}]},
   "mark": {"type": "point", "opacity": 0, "size": 1},
   "encoding": {"x": {"datum": 0.5, "type": "quantitative", "scale": {"domain": [0, 1]}, "axis": {"orient": "top", "domain": true, "domainColor": "#7c9db2", "domainWidth": 2, "labels": false, "grid": false, "ticks": false, "title": null}}}}
 ]
},
{
 "spacing": 3,
 "resolve": {"scale": {"color": "independent", "x": "independent", "y": "independent"}, "legend": {"color": "independent"}},
 "vconcat": [
  {"width": 517, "height": 2,
   "title": {"text": "图30：\u3000券商净融入", "dx": 2},
   "data": {"values": [{"k": 1}]},
   "mark": {"type": "point", "opacity": 0, "size": 1},
   "encoding": {"x": {"datum": 0.5, "type": "quantitative", "scale": {"domain": [0, 1]}, "axis": {"orient": "top", "domain": true, "domainColor": "#1f5a8a", "domainWidth": 1.5, "labels": false, "grid": false, "ticks": false, "title": null}}}},
  {"spacing": 0,
   "resolve": {"scale": {"color": "independent", "x": "independent", "y": "independent"}, "legend": {"color": "independent"}},
   "hconcat": [
    {"width": 15, "height": 10, "data": {"values": [{"k": 1}]}, "mark": {"type": "point", "opacity": 0, "size": 1}},
    {"width": 441, "height": 214,
     "view": {"stroke": "#d9d9d9"},
     "data": {"name": "broker", "format": {"parse": {"d": "utc:'%m-%d'"}}},
     "mark": {"type": "line", "strokeWidth": 2},
     "encoding": {
      "x": {"field": "d", "type": "temporal", "scale": {"type": "utc", "nice": false, "domain": [{"year": 1900, "month": 1, "date": 1, "utc": true}, {"year": 1900, "month": 12, "date": 31, "utc": true}]}, "axis": {"labelExpr": "utcFormat(datum.value, '%-m') + '月'", "tickCount": {"interval": "month", "step": 1}, "labelFlush": false, "labelOverlap": false, "labelPadding": 10, "grid": true}},
      "y": {"field": "v", "type": "quantitative", "scale": {"domain": [8000, 20000], "nice": false, "zero": false}, "axis": {"values": [8000, 10000, 12000, 14000, 16000, 18000, 20000], "format": ",d", "labelPadding": 15, "grid": true}},
      "color": {"field": "s", "type": "nominal", "scale": {"domain": ["2022", "2023", "2024", "2025", "2026"], "range": ["#a5a5a5", "#bdd7ee", "#22a3da", "#1f4e96", "#c00000"]}, "legend": {"title": "券商净融入，亿元"}}
     }}
   ]},
  {"width": 517, "height": 1,
   "title": {"text": "数据来源：Choice，财通证券研究所", "orient": "bottom", "fontSize": 14, "offset": 12},
   "data": {"values": [{"k": 1}]},
   "mark": {"type": "point", "opacity": 0, "size": 1},
   "encoding": {"x": {"datum": 0.5, "type": "quantitative", "scale": {"domain": [0, 1]}, "axis": {"orient": "top", "domain": true, "domainColor": "#7c9db2", "domainWidth": 2, "labels": false, "grid": false, "ticks": false, "title": null}}}}
 ]
}
]
}
